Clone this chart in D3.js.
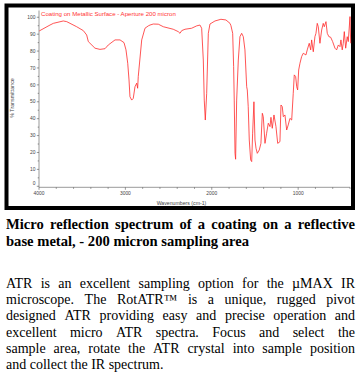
<!DOCTYPE html>
<html>
<head>
<meta charset="utf-8">
<script src="https://cdn.jsdelivr.net/npm/d3@7"></script>
<style>
  html, body { margin: 0; padding: 0; background: #fff; }
  svg { display: block; }
</style>
</head>
<body>
<svg id="chart" width="363" height="383"></svg>
<script>
// spectrum (wavenumber in cm-1, % transmittance)
const wavenumbers = [3997, 3873, 3834, 3719, 3679, 3564, 3487, 3448, 3429, 3352, 3294, 3236, 3198, 3120, 3062,
  3016, 2993, 2973, 2958, 2947, 2927, 2909, 2889, 2869, 2858, 2851, 2811, 2773, 2735, 2715, 2677, 2619, 2561,
  2446, 2388, 2368, 2348, 2310, 2233, 2175, 2137, 2117, 2098, 2087, 2075, 2059, 2040, 2021, 1963, 1894, 1836,
  1789, 1778, 1758, 1747, 1740, 1731, 1724, 1712, 1693, 1674, 1654, 1635, 1616, 1596, 1589, 1578, 1566, 1550,
  1538, 1527, 1512, 1500, 1488, 1473, 1450, 1431, 1415, 1404, 1384, 1365, 1346, 1326, 1315, 1300, 1280, 1257,
  1237, 1211, 1199, 1184, 1172, 1153, 1133, 1115, 1095, 1075, 1057, 1045, 1029, 1017, 1006, 994, 979, 960, 941,
  910, 895, 872, 855, 844, 825, 806, 794, 779, 767, 748, 728, 710, 698, 678, 663, 644, 624, 601, 574, 555, 535,
  516, 505, 490, 478, 466, 450, 432, 420, 400, 392];
const transmittance = [91.9, 95.4, 96.4, 97.8, 97.4, 94.4, 92.1, 89.5, 85.6, 81.7, 81, 81.4, 83.6, 86.6, 86.6,
  85, 80.7, 72.8, 62.9, 53, 51, 52, 58.9, 61, 58, 64.9, 86.6, 93.5, 94.9, 95.4, 96, 95.9, 94.4,
  92.9, 91.5, 90.5, 92.1, 92.9, 93.5, 94.9, 95.4, 93.5, 74.7, 51, 39.2, 55, 90.5, 96, 97.8, 98.8, 98.4,
  96.4, 95, 90.5, 70.8, 51, 19.5, 16, 51, 74.7, 88.5, 90.5, 88.5, 80.7, 58.9, 57, 47.1, 27.4, 15.6,
  14.6, 31.4, 50, 27.4, 22.5, 19.5, 21.5, 25.4, 43.2, 41.2, 25.4, 31.4, 37.3, 35.3, 40.8, 34.3, 42.2, 35.3,
  25.4, 26.4, 48.1, 47.1, 41.2, 42.2, 33.3, 36.3, 40.2, 39.2, 55, 65.9, 64.9, 58.9, 57, 68.8, 72.8, 76.7, 78.7,
  77.7, 80.7, 84.6, 80.7, 86.6, 79.6, 88.5, 90.5, 96.4, 94.4, 84.6, 92.5, 96.4, 94.4, 97.4, 90.5, 88.5, 88.2, 85.6, 81.7, 80.7, 83.6,
  82.6, 86.6, 80.7, 84.6, 91.5, 81.7, 88.5, 85.6, 100.4, 84.6];

const xTickValues = [4000, 3000, 2000, 1000];
const yTickValues = [0, 10, 20, 30, 40, 50, 60, 70, 80, 90, 100];
const plotTitle = 'Coating on Metallic Surface - Aperture 200 micron';
const xTitle = 'Wavenumbers (cm-1)';
const yTitle = '% Transmittance';

const captionLines = [
  'Micro reflection spectrum of a coating on a reflective',
  'base metal, - 200 micron sampling area'
];
const bodyLines = [
  'ATR is an excellent sampling option for the \u00b5MAX IR',
  'microscope.  The RotATR\u2122 is a unique, rugged pivot',
  'designed ATR providing easy and precise operation and',
  'excellent micro ATR spectra.  Focus and select the',
  'sample area, rotate the ATR crystal into sample position',
  'and collect the IR spectrum.'
];

const svg = d3.select('#chart');

// plot frame
svg.append('rect')
  .attr('x', 6.5).attr('y', 5.5)
  .attr('width', 346.5).attr('height', 202.5)
  .attr('fill', '#fff')
  .attr('stroke', '#000')
  .attr('stroke-width', 4);

const x = d3.scaleLinear().domain([4000, 400]).range([39, 350]);
const y = d3.scaleLinear().domain([-0.6, 104]).range([187.3, 10.5]);

const tickFont = '"Liberation Sans", Arial, sans-serif';

// x axis
const xAxis = svg.append('g').attr('transform', 'translate(0,187.3)');
xAxis.append('line')
  .attr('x1', x(4000)).attr('x2', x(400))
  .attr('stroke', '#555').attr('stroke-width', 0.6);
xAxis.selectAll('.minor').data(d3.range(4000, 399, -200)).enter()
  .append('line')
  .attr('x1', d => x(d)).attr('x2', d => x(d))
  .attr('y1', 0).attr('y2', d => d % 1000 === 0 ? 2.5 : 1.6)
  .attr('stroke', '#555').attr('stroke-width', 0.6);
xAxis.selectAll('.lbl').data(xTickValues).enter()
  .append('text')
  .attr('x', d => x(d)).attr('y', 7.5)
  .attr('text-anchor', 'middle')
  .attr('font-family', tickFont).attr('font-size', 4.9)
  .attr('fill', '#444')
  .text(d => d);

// y axis
const yAxis = svg.append('g').attr('transform', 'translate(39,0)');
yAxis.append('line')
  .attr('y1', y(-0.6)).attr('y2', y(104))
  .attr('stroke', '#555').attr('stroke-width', 0.6);
yAxis.selectAll('.minor').data(d3.range(0, 101, 5)).enter()
  .append('line')
  .attr('x1', d => d % 10 === 0 ? -2.2 : -1.3).attr('x2', 0)
  .attr('y1', d => y(d)).attr('y2', d => y(d))
  .attr('stroke', '#555').attr('stroke-width', 0.6);
yAxis.selectAll('.lbl').data(yTickValues).enter()
  .append('text')
  .attr('x', -3.5).attr('y', d => y(d) + 1.7 - (d === 0 ? 3 : 0))
  .attr('text-anchor', 'end')
  .attr('font-family', tickFont).attr('font-size', 4.9)
  .attr('fill', '#444')
  .text(d => d);

// axis titles
svg.append('text')
  .attr('transform', 'translate(14,98) rotate(-90)')
  .attr('text-anchor', 'middle')
  .attr('font-family', tickFont).attr('font-size', 5.3)
  .attr('fill', '#444')
  .text(yTitle);
svg.append('text')
  .attr('x', 181.5).attr('y', 205)
  .attr('text-anchor', 'middle')
  .attr('font-family', tickFont).attr('font-size', 5.2)
  .attr('fill', '#444')
  .text(xTitle);

// red title inside plot
svg.append('text')
  .attr('x', 41).attr('y', 15.5)
  .attr('font-family', tickFont).attr('font-size', 6.1)
  .attr('fill', '#f33')
  .text(plotTitle);

// spectrum
const line = d3.line()
  .x((d, i) => x(wavenumbers[i]))
  .y(d => y(d));
svg.append('path')
  .datum(transmittance)
  .attr('d', line)
  .attr('fill', 'none')
  .attr('stroke', '#ff2a2a')
  .attr('stroke-width', 0.8)
  .attr('stroke-linejoin', 'round');

// justified text block
function justify(lines, opts) {
  lines.forEach((str, li) => {
    const yy = opts.y0 + li * opts.lh;
    const isLast = li === lines.length - 1;
    if (isLast) {
      svg.append('text')
        .attr('x', opts.x0).attr('y', yy)
        .attr('font-family', opts.font).attr('font-size', opts.size)
        .attr('font-weight', opts.weight)
        .attr('xml:space', 'preserve')
        .text(str);
      return;
    }
    const words = str.split(/\s+/);
    const nodes = words.map(w => svg.append('text')
      .attr('y', yy)
      .attr('font-family', opts.font).attr('font-size', opts.size)
      .attr('font-weight', opts.weight)
      .text(w));
    const widths = nodes.map(n => n.node().getComputedTextLength());
    const gap = (opts.x1 - opts.x0 - d3.sum(widths)) / (words.length - 1);
    let cx = opts.x0;
    nodes.forEach((n, i) => { n.attr('x', cx); cx += widths[i] + gap; });
  });
}

justify(captionLines, {
  x0: 6, x1: 355, y0: 229, lh: 17,
  font: '"Liberation Serif", "Times New Roman", serif', size: 14.6, weight: 'bold'
});
justify(bodyLines, {
  x0: 6, x1: 355, y0: 288, lh: 16.2,
  font: '"Liberation Serif", "Times New Roman", serif', size: 14, weight: 'normal'
});
</script>
</body>
</html>
